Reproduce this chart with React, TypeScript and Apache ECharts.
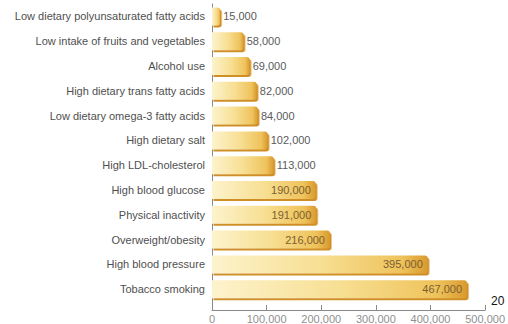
import React, { useEffect, useRef } from "react";
import * as echarts from "echarts";

const categories = [
  "Low dietary polyunsaturated fatty acids",
  "Low intake of fruits and vegetables",
  "Alcohol use",
  "High dietary trans fatty acids",
  "Low dietary omega-3 fatty acids",
  "High dietary salt",
  "High LDL-cholesterol",
  "High blood glucose",
  "Physical inactivity",
  "Overweight/obesity",
  "High blood pressure",
  "Tobacco smoking",
];
const deaths = [15000, 58000, 69000, 82000, 84000, 102000, 113000, 190000, 191000, 216000, 395000, 467000];
const insideThreshold = 150000;
const pageNumber = "20";

const fmt = (v: number) => v.toLocaleString("en-US");

export default function App() {
  const ref = useRef<HTMLDivElement>(null);
  useEffect(() => {
    if (!ref.current) return;
    const chart = echarts.init(ref.current, null, { renderer: "svg" });
    const font = "'Liberation Sans', Arial, Helvetica, sans-serif";
    chart.setOption({
      animation: false,
      textStyle: { fontFamily: font },
      grid: { left: 212, top: 4, width: 274, height: 297.6, containLabel: false },
      xAxis: {
        type: "value",
        min: 0,
        max: 500000,
        interval: 100000,
        offset: 8.4,
        axisLine: { show: true, lineStyle: { color: "#8a8a8a", width: 1 } },
        axisTick: { show: true, inside: true, length: 5, lineStyle: { color: "#8a8a8a" } },
        splitLine: { show: false },
        axisLabel: { color: "#8f8f8f", fontSize: 11, margin: 3, formatter: (v: number) => fmt(v) },
      },
      yAxis: {
        type: "category",
        data: categories,
        inverse: true,
        axisLine: { show: true, lineStyle: { color: "#8a8a8a", width: 1 } },
        axisTick: { show: false },
        axisLabel: { color: "#4f4f4f", fontSize: 11, margin: 7 },
      },
      series: [
        {
          type: "bar",
          data: deaths.map((v) => ({
            value: v,
            label: v >= insideThreshold
              ? { show: true, position: "insideRight", color: "#7a6030", distance: 5 }
              : { show: true, position: "right", color: "#5a5a5a", distance: 3 },
          })),
          barWidth: 18,
          label: { fontSize: 11, formatter: (p: any) => fmt(p.value) },
          itemStyle: {
            color: new echarts.graphic.LinearGradient(0, 0, 1, 0, [
              { offset: 0, color: "#fdf3cc" },
              { offset: 0.5, color: "#f7df93" },
              { offset: 0.88, color: "#efc35c" },
              { offset: 1, color: "#d99a2e" },
            ]),
            borderRadius: [0, 3, 3, 0],
            shadowColor: "#cf8f25",
            shadowOffsetY: 2,
            shadowOffsetX: 1.5,
            shadowBlur: 0,
          },
        },
      ],
      graphic: [
        {
          type: "line",
          shape: { x1: 212.5, y1: 301, x2: 212.5, y2: 310.5 },
          style: { stroke: "#8a8a8a", lineWidth: 1 },
        },
        {
          type: "text",
          left: 491,
          top: 295,
          style: { text: pageNumber, fill: "#111", fontSize: 12, fontFamily: font },
        },
      ],
    });
    return () => chart.dispose();
  }, []);
  return <div ref={ref} style={{ width: 508, height: 324, position: "absolute", left: 0, top: 0 }} />;
}
